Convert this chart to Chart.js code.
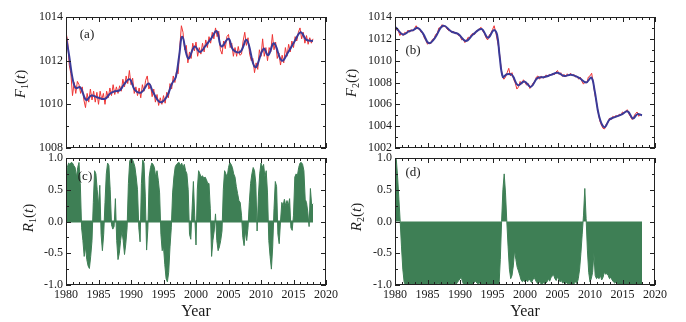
<!DOCTYPE html>
<html lang="en">
<head>
  <meta charset="UTF-8" />
  <title>F(t) and R(t)</title>
  <script src="https://cdn.jsdelivr.net/npm/chart.js"></script>
  <style>
    html, body { margin: 0; padding: 0; background: #fff; }
    #wrap { position: relative; width: 686px; height: 322px; overflow: hidden; }
    #wrap canvas { position: absolute; left: 0; top: 0; }
    .lab { position: absolute; font-family: 'Liberation Serif', 'Times New Roman', serif; color: #1a1a1a; white-space: nowrap; transform: translate(-50%, -50%); line-height: 1; }
    .ytitle { font-size: 15px; transform: translate(-50%, -50%) rotate(-90deg); }
    .ytitle sub { font-size: 10px; vertical-align: -3px; }
    .panel { font-size: 13px; }
  </style>
</head>
<body>
  <div id="wrap">
    <canvas id="chartA" width="686" height="322"></canvas>
    <canvas id="chartB" width="686" height="322"></canvas>
    <canvas id="chartC" width="686" height="322"></canvas>
    <canvas id="chartD" width="686" height="322"></canvas>

    <div class="lab ytitle" style="left:21px; top:84px;"><i>F</i><sub>1</sub>(<i>t</i>)</div>
    <div class="lab ytitle" style="left:352px; top:83px;"><i>F</i><sub>2</sub>(<i>t</i>)</div>
    <div class="lab ytitle" style="left:29px; top:218px;"><i>R</i><sub>1</sub>(<i>t</i>)</div>
    <div class="lab ytitle" style="left:357px; top:217px;"><i>R</i><sub>2</sub>(<i>t</i>)</div>

    <div class="lab panel" style="left:87px; top:33px;">(a)</div>
    <div class="lab panel" style="left:413px; top:49px;">(b)</div>
    <div class="lab panel" style="left:85px; top:175px;">(c)</div>
    <div class="lab panel" style="left:413px; top:171px;">(d)</div>
  </div>

  <script>
    // ---- datos ----
    const yearMin = 1980, yearMax = 2020;
    const xTicks = [1980, 1985, 1990, 1995, 2000, 2005, 2010, 2015, 2020];

    // F1: serie mensual (aprox. cada 3 meses) y curva suavizada
    const f1RawStart = 1980, f1RawStep = 0.25;
    const f1Raw = [
      1013.3, 1012.9, 1011.8, 1011.4,
      1010.4, 1011.0, 1010.5, 1011.05,
      1010.9, 1010.5, 1010.8, 1010.2,
      1009.85, 1010.5, 1010.1, 1010.7,
      1010.2, 1010.6, 1010.1, 1010.55,
      1010.0, 1010.6, 1010.2, 1010.5,
      1010.0, 1010.6, 1010.3, 1010.75,
      1010.4, 1010.9, 1010.45, 1010.8,
      1010.5, 1010.85, 1010.6, 1011.15,
      1010.8, 1011.3, 1010.95, 1011.55,
      1010.9, 1011.2, 1010.5, 1010.8,
      1010.4, 1010.75, 1010.3, 1010.9,
      1010.6, 1011.1, 1011.3, 1010.7,
      1010.9, 1010.35, 1010.7, 1010.1,
      1010.45, 1009.95, 1010.3, 1010.0,
      1010.4, 1010.05, 1010.55, 1010.3,
      1010.95, 1010.7, 1011.3, 1011.0,
      1011.5, 1011.4, 1012.6, 1013.6,
      1013.3, 1012.5, 1012.7, 1011.9,
      1012.4, 1012.1, 1012.8, 1012.45,
      1012.85, 1012.2, 1012.6, 1012.3,
      1012.8, 1012.4, 1012.95, 1012.6,
      1013.1, 1012.8, 1013.3, 1013.0,
      1013.5, 1013.1, 1013.35, 1012.5,
      1012.3, 1012.9, 1012.55, 1013.1,
      1013.2, 1012.6, 1012.8, 1012.2,
      1012.6, 1012.2, 1012.65, 1012.25,
      1012.3, 1012.9, 1013.3, 1012.7,
      1013.05, 1012.3, 1012.0, 1012.1,
      1011.45, 1011.9, 1011.6, 1012.5,
      1012.2, 1013.0, 1012.2, 1012.6,
      1012.0, 1012.6, 1012.4, 1013.2,
      1012.5, 1012.85, 1012.1, 1012.35,
      1011.8, 1012.25, 1011.9, 1012.6,
      1012.2, 1012.75, 1012.4, 1012.9,
      1012.6, 1013.1, 1012.9, 1013.3,
      1013.5, 1013.0, 1013.3, 1012.8,
      1013.15, 1012.75, 1013.05, 1012.8,
      1013.0
    ];
    const f1SmoothYears = [
      1980.0, 1980.5, 1981.0, 1981.5, 1982.2, 1983.1, 1983.9, 1985.0, 1986.0, 1986.8,
      1987.5, 1988.3, 1988.9, 1989.8, 1990.6, 1991.6, 1992.7, 1993.4, 1994.5, 1995.5,
      1996.3, 1996.9, 1997.4, 1997.9, 1998.8, 1999.8, 2000.6, 2001.4, 2002.3, 2003.2,
      2003.9, 2005.0, 2005.7, 2006.8, 2007.8, 2009.1, 2010.4, 2011.1, 2012.0, 2013.2,
      2014.2, 2015.2, 2016.1, 2017.0, 2018.0
    ];
    const f1Smooth = [
      1013.1, 1012.2, 1011.2, 1010.75, 1010.78, 1010.2, 1010.4, 1010.3, 1010.25, 1010.5,
      1010.6, 1010.65, 1010.9, 1011.15, 1010.65, 1010.55, 1010.95, 1010.55, 1010.1, 1010.35,
      1010.95, 1011.25, 1012.2, 1013.1, 1012.1, 1012.65, 1012.4, 1012.65, 1013.0, 1013.35,
      1012.65, 1013.0, 1012.5, 1012.4, 1012.95, 1011.7, 1012.55, 1012.25, 1012.8, 1012.0,
      1012.4, 1012.9, 1013.3, 1012.95, 1012.9
    ];

    // F2
    const f2RawStart = 1980, f2RawStep = 0.25;
    const f2Raw = [
      1013.25, 1012.8, 1012.75, 1012.3,
      1012.55, 1012.3, 1012.6, 1012.5,
      1012.8, 1012.6, 1012.85, 1012.7,
      1012.95, 1013.2, 1012.9, 1012.95,
      1012.6, 1012.55, 1012.1, 1011.85,
      1011.5, 1011.7, 1011.55, 1011.95,
      1012.0, 1012.4, 1012.5, 1013.0,
      1013.0, 1013.3, 1013.1, 1013.15,
      1012.9, 1012.75, 1012.8, 1012.55,
      1012.7, 1012.45, 1012.55, 1012.3,
      1012.3, 1011.9, 1012.0, 1011.65,
      1011.85, 1012.15, 1012.1, 1012.4,
      1012.5, 1012.4, 1012.75, 1012.7,
      1012.95, 1013.05, 1012.7, 1012.5,
      1012.1, 1011.9, 1012.35, 1012.5,
      1012.85, 1013.2, 1012.6, 1011.8,
      1011.1, 1009.7, 1008.6, 1008.3,
      1008.5, 1008.9, 1009.3, 1008.6,
      1008.9, 1008.3, 1007.95, 1007.4,
      1007.6, 1008.1, 1007.85, 1008.25,
      1008.0, 1007.75, 1007.9, 1007.45,
      1007.7, 1007.95, 1008.1, 1008.5,
      1008.6, 1008.3, 1008.6, 1008.4,
      1008.45, 1008.7, 1008.5, 1008.75,
      1008.65, 1008.85, 1008.7, 1008.95,
      1009.1, 1008.75, 1008.9, 1008.55,
      1008.75, 1008.5, 1008.8, 1008.6,
      1008.85, 1008.6, 1008.75, 1008.5,
      1008.6, 1008.3, 1008.5, 1008.1,
      1007.85, 1008.1, 1007.95, 1008.5,
      1008.6, 1008.85, 1008.0, 1006.9,
      1006.2, 1005.3, 1004.5, 1004.1,
      1003.8, 1003.75, 1004.2, 1004.3,
      1004.75, 1004.6, 1004.9, 1004.8,
      1005.0, 1004.85, 1005.1, 1005.0,
      1005.3, 1005.2, 1005.4, 1005.5,
      1005.1, 1004.85, 1004.6, 1004.9,
      1005.15, 1005.3, 1004.9, 1005.1,
      1005.0
    ];
    const f2SmoothYears = [
      1980.0, 1980.2, 1981.2, 1982.2, 1982.8, 1983.5, 1984.3, 1985.2, 1986.1, 1987.4,
      1988.7, 1989.7, 1990.9, 1992.0, 1993.3, 1994.3, 1995.2, 1995.7, 1996.1, 1996.6,
      1997.2, 1998.0, 1998.9, 1999.9, 2000.9, 2001.9, 2003.0, 2004.0, 2005.0, 2006.0,
      2007.1, 2008.4, 2009.4, 2010.2, 2010.7, 2011.4, 2012.2, 2013.0, 2013.7, 2014.8,
      2015.8, 2016.6, 2017.3, 2018.0
    ];
    const f2Smooth = [
      1013.05, 1013.0, 1012.4, 1012.7, 1012.8, 1013.0, 1012.5, 1011.6, 1012.05, 1013.2,
      1012.65, 1012.45, 1011.8, 1012.4, 1012.9, 1012.1, 1012.8, 1012.4, 1010.4, 1008.5,
      1008.75, 1008.7, 1007.75, 1008.1, 1007.6, 1008.4, 1008.5, 1008.7, 1008.9, 1008.6,
      1008.7, 1008.4, 1008.0, 1008.45, 1007.3, 1004.9, 1003.9, 1004.6, 1004.8, 1005.05,
      1005.35, 1004.7, 1005.1, 1005.0
    ];

    // R1 y R2 (cada 0.2 años)
    const rStart = 1980, rStep = 0.2;
    const r1 = [
      0.55, 0.85, 0.92, 0.9, 0.93,
      0.92, 0.88, 0.85, 0.7, 0.85,
      0.93, 0.6, -0.1, -0.3, -0.55,
      -0.4, -0.6, -0.7, -0.74, -0.55,
      -0.3, 0.3, 0.8, 0.75, 0.5,
      0.25, 0.57, -0.2, -0.46, -0.2,
      0.3, 0.75, 0.92, 0.88, 0.5,
      -0.05, -0.12, -0.08, 0.36, -0.3,
      -0.6, -0.5, -0.3, -0.15, -0.3,
      -0.52, -0.35, -0.1, 0.6, 0.95,
      1.0, 0.98, 0.93, 0.86, 0.7,
      0.5, -0.1, -0.32, 0.6, 0.97,
      0.92, 0.4, -0.45, -0.1, 0.7,
      0.85, 0.92, 0.9, 0.85, 0.7,
      0.8, 0.65, 0.45, -0.2, -0.46,
      -0.4, -0.68, -0.9, -0.95, -0.8,
      -0.4, -0.1, 0.45, 0.7, 0.86,
      0.9, 0.92, 0.93, 0.88, 0.92,
      0.85, 0.9, 0.8, 0.75, 0.5,
      -0.2, -0.28, 0.2, 0.63, 0.1,
      -0.37, 0.5, 0.8, 0.75, 0.7,
      0.72, 0.68, 0.7, 0.66, 0.6,
      0.6, 0.2, -0.55, -0.3, -0.15,
      0.12, -0.3, -0.46, -0.4, -0.3,
      -0.15, 0.5, 0.8, 0.75, 0.7,
      0.85, 0.93, 0.9, 0.85, 0.75,
      0.7, 0.55, 0.44, 0.33, 0.3,
      0.1, -0.25, -0.38, -0.15, -0.3,
      -0.1, 0.3, 0.6, 0.75, 0.85,
      0.8, 0.6, -0.15, 0.4, 0.75,
      0.92, 0.85, 0.9, 0.7, 0.8,
      0.45, -0.3, -0.55, -0.75, -0.4,
      0.2, 0.63, 0.55, -0.2, -0.35,
      0.0, 0.3, 0.25, 0.35, 0.25,
      0.33, 0.25, 0.36, -0.1, -0.14,
      0.1, 0.7, 0.75, 0.72, 0.85,
      0.92, 0.93, 0.9, 0.8, 0.35,
      0.3, 0.15, -0.08, 0.52, 0.25,
      0.28
    ];
    const r2 = [
      1.0, 0.98, 0.7, 0.35, 0.0,
      -0.4, -0.75, -0.95, -1.0, -1.0,
      -0.99, -1.0, -1.0, -0.98, -1.0,
      -1.0, -0.99, -1.0, -1.0, -0.98,
      -1.0, -1.0, -0.99, -1.0, -1.0,
      -0.98, -1.0, -1.0, -0.99, -1.0,
      -1.0, -0.98, -1.0, -0.97, -1.0,
      -0.99, -1.0, -1.0, -0.98, -1.0,
      -1.0, -0.99, -1.0, -1.0, -0.98,
      -1.0, -0.97, -0.99, -0.96, -0.93,
      -0.9, -0.88, -0.95, -1.0, -0.98,
      -1.0, -0.99, -1.0, -0.97, -1.0,
      -0.98, -0.96, -0.94, -0.97, -0.99,
      -0.97, -0.98, -1.0, -0.99, -1.0,
      -0.98, -1.0, -0.99, -1.0, -1.0,
      -0.99, -1.0, -1.0, -0.98, -1.0,
      -1.0, -0.6, 0.0, 0.5, 0.75,
      0.45, 0.0, -0.4, -0.75, -0.9,
      -0.85, -0.7, -0.45, -0.6, -0.72,
      -0.78, -0.85, -0.92, -0.95, -0.93,
      -0.95, -0.92, -0.95, -0.9, -0.93,
      -0.96, -0.92, -0.88, -0.92, -0.96,
      -0.98, -0.95, -0.97, -1.0, -0.96,
      -0.98, -0.97, -0.95, -0.9, -0.94,
      -0.88, -0.86, -0.84, -0.9, -0.93,
      -0.87, -0.92, -0.95, -0.93, -0.97,
      -0.95, -0.98, -0.96, -0.99, -0.97,
      -1.0, -0.98, -1.0, -0.97, -0.95,
      -0.98, -0.9, -0.75, -0.5, -0.2,
      0.1, 0.52, 0.05, -0.45, -0.8,
      -0.95, -0.9, -0.8, -0.5, -0.85,
      -0.9, -0.88, -0.9, -0.85, -0.92,
      -0.88, -0.8, -0.83, -0.82, -0.85,
      -0.9, -0.88, -0.92, -0.95, -0.97,
      -0.95, -0.98, -1.0, -0.99, -1.0,
      -1.0, -1.0, -1.0, -1.0, -1.0,
      -1.0, -1.0, -1.0, -1.0, -1.0,
      -1.0, -1.0, -1.0, -1.0, -1.0,
      -1.0
    ];

    // ---- estilo ----
    const serif = "'Liberation Serif', 'Times New Roman', serif";
    const ink = '#1a1a1a';
    const rojo = '#ee3434';
    const azul = '#3a3a98';
    const verde = '#3e7f55';

    const pares = (xs, ys) => ys.map((v, i) => ({ x: xs[i], y: v }));
    const serieRegular = (start, step, ys) => ys.map((v, i) => ({ x: +(start + i * step).toFixed(2), y: v }));

    // marco y marcas hacia adentro
    const marcoTicks = {
      id: 'marcoTicks',
      afterDatasetsDraw(chart, args, o) {
        const { ctx, chartArea: a, scales: { x, y } } = chart;
        ctx.save();
        if (o.zero) {
          const py = y.getPixelForValue(0);
          ctx.strokeStyle = o.zero.color;
          ctx.lineWidth = 2;
          ctx.beginPath();
          ctx.moveTo(x.getPixelForValue(o.zero.from), py);
          ctx.lineTo(x.getPixelForValue(o.zero.to), py);
          ctx.stroke();
        }
        ctx.strokeStyle = '#222';
        ctx.lineWidth = 1;
        ctx.beginPath();
        for (let v = yearMin; v <= yearMax; v++) {
          const px = Math.round(x.getPixelForValue(v)) + 0.5;
          const len = v % 5 === 0 ? 5 : 3;
          ctx.moveTo(px, a.bottom); ctx.lineTo(px, a.bottom - len);
          ctx.moveTo(px, a.top); ctx.lineTo(px, a.top + len);
        }
        const n = Math.round((y.max - y.min) / o.minor);
        for (let k = 0; k <= n; k++) {
          const py = Math.round(y.getPixelForValue(y.min + k * o.minor)) + 0.5;
          const len = k % o.every === 0 ? 5 : 3;
          ctx.moveTo(a.left, py); ctx.lineTo(a.left + len, py);
          ctx.moveTo(a.right, py); ctx.lineTo(a.right - len, py);
        }
        ctx.stroke();
        ctx.strokeRect(Math.round(a.left) + 0.5, Math.round(a.top) + 0.5, Math.round(a.width) - 1, Math.round(a.height) - 1);
        ctx.restore();
      }
    };

    function opciones(cfg) {
      return {
        responsive: false,
        animation: false,
        events: [],
        layout: { padding: cfg.padding },
        plugins: { legend: { display: false }, tooltip: { enabled: false }, marcoTicks: cfg.marco },
        scales: {
          x: {
            type: 'linear', min: yearMin, max: yearMax,
            display: cfg.ejeX,
            grid: { display: false, drawTicks: false },
            border: { display: false },
            afterBuildTicks: s => { s.ticks = xTicks.map(v => ({ value: v })); },
            ticks: { color: ink, font: { family: serif, size: 12 }, padding: 3, maxRotation: 0, autoSkip: false, callback: v => String(v) },
            title: { display: cfg.ejeX, text: 'Year', color: ink, font: { family: serif, size: 16 }, padding: { top: 0, bottom: 1 } },
            afterFit: s => { s.height = cfg.ejeX ? 37 : 0; }
          },
          y: {
            min: cfg.yMin, max: cfg.yMax,
            grid: { display: false, drawTicks: false },
            border: { display: false },
            ticks: { stepSize: cfg.yStep, color: ink, font: { family: serif, size: 12 }, padding: 3, autoSkip: false, callback: cfg.fmt },
            afterFit: s => { s.width = 66; }
          }
        }
      };
    }

    const fmtEntero = v => String(v);
    const fmtDecimal = v => v.toFixed(1);

    // (a)
    new Chart(document.getElementById('chartA'), {
      type: 'line',
      data: {
        datasets: [
          { data: pares(f1SmoothYears, f1Smooth), borderColor: azul, borderWidth: 2, pointRadius: 0, tension: 0.4 },
          { data: serieRegular(f1RawStart, f1RawStep, f1Raw), borderColor: rojo, borderWidth: 1, pointRadius: 0, tension: 0 }
        ]
      },
      options: opciones({ padding: { left: 0, top: 17, right: 360, bottom: 174 }, ejeX: false, yMin: 1008, yMax: 1014, yStep: 2, fmt: fmtEntero, marco: { minor: 1, every: 2 } }),
      plugins: [marcoTicks]
    });

    // (b)
    new Chart(document.getElementById('chartB'), {
      type: 'line',
      data: {
        datasets: [
          { data: pares(f2SmoothYears, f2Smooth), borderColor: azul, borderWidth: 2, pointRadius: 0, tension: 0.4 },
          { data: serieRegular(f2RawStart, f2RawStep, f2Raw), borderColor: rojo, borderWidth: 1, pointRadius: 0, tension: 0 }
        ]
      },
      options: opciones({ padding: { left: 329, top: 17, right: 31, bottom: 174 }, ejeX: false, yMin: 1002, yMax: 1014, yStep: 2, fmt: fmtEntero, marco: { minor: 1, every: 2 } }),
      plugins: [marcoTicks]
    });

    // (c)
    new Chart(document.getElementById('chartC'), {
      type: 'line',
      data: {
        datasets: [
          { data: serieRegular(rStart, rStep, r1), borderColor: verde, backgroundColor: verde, borderWidth: 1, pointRadius: 0, tension: 0, fill: 'origin' }
        ]
      },
      options: opciones({ padding: { left: 0, top: 158, right: 360, bottom: 0 }, ejeX: true, yMin: -1, yMax: 1, yStep: 0.5, fmt: fmtDecimal, marco: { minor: 0.25, every: 2, zero: { from: 1980, to: 2018, color: verde } } }),
      plugins: [marcoTicks]
    });

    // (d)
    new Chart(document.getElementById('chartD'), {
      type: 'line',
      data: {
        datasets: [
          { data: serieRegular(rStart, rStep, r2), borderColor: verde, backgroundColor: verde, borderWidth: 1, pointRadius: 0, tension: 0, fill: 'origin' }
        ]
      },
      options: opciones({ padding: { left: 329, top: 158, right: 31, bottom: 0 }, ejeX: true, yMin: -1, yMax: 1, yStep: 0.5, fmt: fmtDecimal, marco: { minor: 0.25, every: 2 } }),
      plugins: [marcoTicks]
    });
  </script>
</body>
</html>
